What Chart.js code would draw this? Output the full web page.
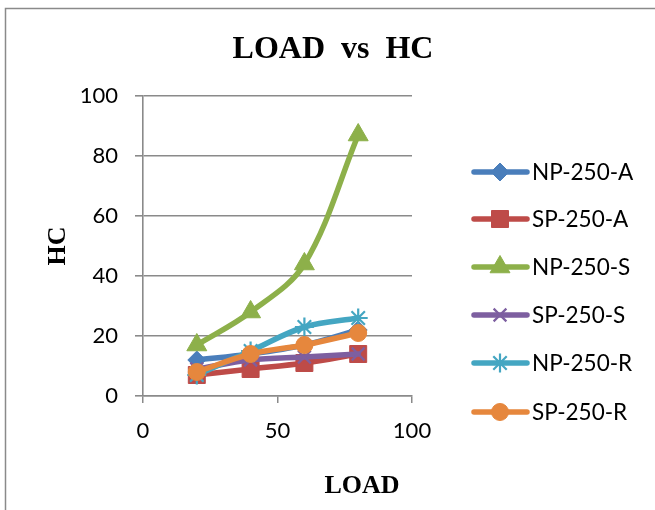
<!DOCTYPE html>
<html>
<head>
<meta charset="utf-8">
<script src="https://cdn.jsdelivr.net/npm/chart.js@4/dist/chart.umd.min.js"></script>
<style>
  html, body { margin: 0; padding: 0; background: #ffffff; }
  #wrap { width: 655px; height: 510px; position: relative; }
</style>
</head>
<body>
<div id="wrap"><canvas id="c" width="655" height="510"></canvas></div>
<script>
// ---- data ----
const loads = [20, 40, 60, 80];
const seriesNames = ['NP-250-A', 'SP-250-A', 'NP-250-S', 'SP-250-S', 'NP-250-R', 'SP-250-R'];
const npA = [12, 14, 17, 22];
const spA = [7, 9, 11, 14];
const npS = [17, 28, 44, 87];
const spS = [9, 12, 13, 14];
const npR = [7, 15, 23, 26];
const spR = [8, 14, 17, 21];
const xTicks = [0, 50, 100];
const yTicks = [0, 20, 40, 60, 80, 100];
const chartTitle = 'LOAD\u00a0\u00a0vs\u00a0\u00a0HC';
const xTitle = 'LOAD';
const yTitle = 'HC';

// ---- styles ----
const seriesValues = [npA, spA, npS, spS, npR, spR];
const colors = ['#4A7EBB', '#BE4B48', '#8DB04A', '#7D5FA0', '#44A6C2', '#E6873D'];
const markers = ['rectRot', 'rect', 'triangle', 'crossRot', 'star', 'circle'];
const radii = [9, 12, 11.5, 9, 9.5, 8.5];
const TICK_FONT = { family: 'Lato', size: 22 };

const datasets = seriesNames.map((name, i) => ({
  label: name,
  data: loads.map((x, j) => ({ x: x, y: seriesValues[i][j] })),
  borderColor: colors[i],
  backgroundColor: colors[i],
  pointBackgroundColor: colors[i],
  pointBorderColor: colors[i],
  pointBorderWidth: (markers[i] === 'crossRot' || markers[i] === 'star') ? 2.2 : 1,
  pointStyle: markers[i],
  pointRadius: radii[i],
  pointHoverRadius: radii[i],
  borderWidth: 5.5,
  borderCapStyle: 'round',
  borderJoinStyle: 'round',
  tension: 0.35,
  fill: false,
  order: seriesNames.length - i
}));

const decor = {
  id: 'decor',
  beforeDraw(chart) {
    const ctx = chart.ctx;
    ctx.save();
    ctx.fillStyle = '#ffffff';
    ctx.fillRect(0, 0, chart.width, chart.height);
    ctx.restore();
  },
  afterDraw(chart) {
    const ctx = chart.ctx;
    ctx.save();
    // outer frame
    ctx.strokeStyle = '#8a8a8a';
    ctx.lineWidth = 1.5;
    ctx.strokeRect(5.5, 8.5, 700, 600);
    // title
    ctx.fillStyle = '#000000';
    ctx.textAlign = 'center';
    ctx.textBaseline = 'alphabetic';
    ctx.font = 'bold 32px "Liberation Serif", "Times New Roman", serif';
    ctx.fillText(chartTitle, 333, 58);
    // x title
    ctx.font = 'bold 26px "Liberation Serif", "Times New Roman", serif';
    ctx.fillText(xTitle, 362, 493);
    // y title
    ctx.save();
    ctx.translate(65, 246);
    ctx.rotate(-Math.PI / 2);
    ctx.fillText(yTitle, 0, 0);
    ctx.restore();
    // legend
    const ys = [172, 219, 267, 315, 363, 412];
    chart.data.datasets.forEach((ds, i) => {
      const y = ys[i];
      ctx.strokeStyle = ds.borderColor;
      ctx.lineWidth = 5.5;
      ctx.lineCap = 'round';
      ctx.beginPath();
      ctx.moveTo(474, y);
      ctx.lineTo(527, y);
      ctx.stroke();
      ctx.fillStyle = ds.pointBackgroundColor;
      ctx.strokeStyle = ds.pointBorderColor;
      ctx.lineWidth = ds.pointBorderWidth;
      ctx.lineCap = 'butt';
      if (Chart.helpers && Chart.helpers.drawPoint) {
        Chart.helpers.drawPoint(ctx, { pointStyle: ds.pointStyle, radius: ds.pointRadius, rotation: 0, borderWidth: ds.pointBorderWidth }, 500, y);
      }
      ctx.fillStyle = '#000000';
      ctx.textAlign = 'left';
      ctx.textBaseline = 'middle';
      ctx.font = '22.5px Lato';
      ctx.fillText(ds.label, 532, y + 1);
    });
    ctx.restore();
  }
};

new Chart(document.getElementById('c'), {
  type: 'line',
  data: { datasets: datasets },
  options: {
    responsive: false,
    animation: false,
    devicePixelRatio: 1,
    layout: { padding: { left: 0, top: 96, right: 243, bottom: 0 } },
    plugins: { legend: { display: false }, title: { display: false }, tooltip: { enabled: false } },
    scales: {
      x: {
        type: 'linear',
        min: 0, max: 100,
        afterFit(scale) { scale.height = 114; },
        afterBuildTicks(scale) { scale.ticks = xTicks.map(v => ({ value: v })); },
        ticks: { color: '#000000', font: TICK_FONT, padding: 15, maxRotation: 0 },
        grid: { drawOnChartArea: false, drawTicks: true, tickLength: 7, color: '#8a8a8a', lineWidth: 1.5 },
        border: { display: true, color: '#8a8a8a', width: 1.5 }
      },
      y: {
        min: 0, max: 100,
        afterFit(scale) { scale.width = 143; },
        afterBuildTicks(scale) { scale.ticks = yTicks.map(v => ({ value: v })); },
        ticks: { color: '#000000', font: TICK_FONT, padding: 17 },
        grid: { drawOnChartArea: true, drawTicks: true, tickLength: 8, color: '#8a8a8a', lineWidth: 1.6 },
        border: { display: true, color: '#8a8a8a', width: 1.6 }
      }
    }
  },
  plugins: [decor]
});
</script>
</body>
</html>
